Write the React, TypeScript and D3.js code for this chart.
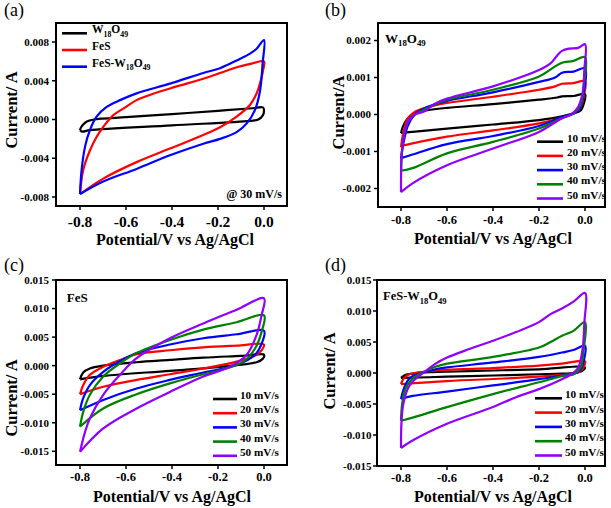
import React from "react";
import * as d3 from "d3";

type Pt = [number, number];

// ---------- shared tick values ----------
const xTicks = [-0.8, -0.6, -0.4, -0.2, 0.0];
const aYTicks = [-0.008, -0.004, 0, 0.004, 0.008];
const bYTicks = [-0.002, -0.001, 0, 0.001, 0.002];
const cYTicks = [-0.015, -0.01, -0.005, 0, 0.005, 0.01, 0.015];
const dYTicks = [-0.015, -0.01, -0.005, 0, 0.005, 0.01, 0.015];

const rateNames = ["10 mV/s", "20 mV/s", "30 mV/s", "40 mV/s", "50 mV/s"];
const aNames = ["W18O49", "FeS", "FeS-W18O49"];
const rateColors = ["#000000", "#ff0000", "#0000ff", "#008000", "#8f00ff"];
const aColors = ["#000000", "#ff0000", "#0000ff"];

// ---------- panel (a): 30 mV/s ----------
const a_W_fwd: Pt[] = [[-0.8, -0.0011], [-0.795, -0.0008], [-0.785, -0.0005], [-0.77, -0.0002], [-0.74, 0], [-0.7, 0.0001], [-0.6, 0.00024], [-0.4, 0.00056], [-0.2, 0.0009], [-0.05, 0.00116], [-0.005, 0.00125]];
const a_W_rev: Pt[] = [[0, 0.001], [-0.006, 0.0004], [-0.025, 0.0000], [-0.06, -0.00014], [-0.4, -0.0006], [-0.757, -0.0011], [-0.79, -0.00125], [-0.8, -0.0011]];
const a_FeS_fwd: Pt[] = [[-0.8, -0.0077], [-0.786, -0.0052], [-0.757, -0.0032], [-0.728, -0.0018], [-0.7, -0.0008], [-0.655, 0.00045], [-0.6, 0.0013], [-0.554, 0.002], [-0.409, 0.0032], [-0.264, 0.0042], [-0.191, 0.0048], [-0.119, 0.0054], [-0.05, 0.0058], [0, 0.006]];
const a_FeS_rev: Pt[] = [[-0.003, 0.0052], [-0.01, 0.0044], [-0.032, 0.0027], [-0.061, 0.0015], [-0.119, 0.0003], [-0.191, -0.0008], [-0.264, -0.0016], [-0.409, -0.003], [-0.554, -0.0044], [-0.699, -0.0061], [-0.8, -0.0077]];
const a_Comp_fwd: Pt[] = [[-0.8, -0.0077], [-0.793, -0.0052], [-0.778, -0.0028], [-0.757, -0.0011], [-0.728, 0.0003], [-0.684, 0.0013], [-0.626, 0.002], [-0.554, 0.0027], [-0.409, 0.0037], [-0.264, 0.0048], [-0.191, 0.0053], [-0.119, 0.0061], [-0.061, 0.0068], [-0.032, 0.0073], [0, 0.0082]];
const a_Comp_rev: Pt[] = [[-0.006, 0.0058], [-0.017, 0.003], [-0.039, 0.001], [-0.075, -0.0004], [-0.119, -0.0013], [-0.191, -0.002], [-0.264, -0.0025], [-0.409, -0.0037], [-0.554, -0.0051], [-0.699, -0.0064], [-0.8, -0.0077]];

// ---------- panel (b): W18O49 ----------
const b10_fwd: Pt[] = [[-0.8, -0.0005], [-0.79, -0.0003], [-0.77, -0.0001], [-0.74, 0.00003], [-0.7, 0.0001], [-0.6, 0.00018], [-0.4, 0.00028], [-0.2, 0.0004], [-0.12, 0.00046], [-0.1, 0.00049], [-0.05, 0.0005], [0, 0.00055]];
const b10_rev: Pt[] = [[-0.005, 0.0003], [-0.02, 0.0001], [-0.05, 0.00003], [-0.1, -0.00005], [-0.2, -0.00015], [-0.4, -0.00027], [-0.6, -0.00038], [-0.75, -0.00047], [-0.8, -0.0005]];
const b20_fwd: Pt[] = [[-0.8, -0.00088], [-0.79, -0.0005], [-0.77, -0.0001], [-0.74, 0.00007], [-0.7, 0.00017], [-0.6, 0.00031], [-0.4, 0.00048], [-0.2, 0.00067], [-0.13, 0.00076], [-0.1, 0.00083], [-0.05, 0.00085], [0, 0.0009]];
const b20_rev: Pt[] = [[-0.005, 0.0005], [-0.02, 0.00018], [-0.05, 0.00003], [-0.1, -0.00008], [-0.2, -0.00024], [-0.4, -0.00043], [-0.6, -0.0006], [-0.75, -0.00078], [-0.8, -0.00085]];
const b30_fwd: Pt[] = [[-0.8, -0.0012], [-0.79, -0.0008], [-0.77, -0.0003], [-0.74, 0], [-0.7, 0.00016], [-0.65, 0.00028], [-0.6, 0.00037], [-0.4, 0.0006], [-0.2, 0.00088], [-0.13, 0.001], [-0.1, 0.00113], [-0.05, 0.00116], [0, 0.00125]];
const b30_rev: Pt[] = [[-0.005, 0.0006], [-0.02, 0.0002], [-0.05, 0.00002], [-0.1, -0.00007], [-0.2, -0.00031], [-0.4, -0.00058], [-0.6, -0.0008], [-0.75, -0.00108], [-0.8, -0.00118]];
const b40_fwd: Pt[] = [[-0.8, -0.00155], [-0.797, -0.0011], [-0.785, -0.0005], [-0.76, -0.0001], [-0.7, 0.00013], [-0.65, 0.00028], [-0.6, 0.0004], [-0.4, 0.00067], [-0.2, 0.00103], [-0.13, 0.0013], [-0.1, 0.0014], [-0.05, 0.00145], [0, 0.00155]];
const b40_rev: Pt[] = [[-0.005, 0.0008], [-0.02, 0.00025], [-0.05, 0.00003], [-0.1, -0.0001], [-0.2, -0.00038], [-0.4, -0.00074], [-0.6, -0.00105], [-0.75, -0.00145], [-0.8, -0.00152]];
const b50_fwd: Pt[] = [[-0.8, -0.0021], [-0.799, -0.0014], [-0.795, -0.0009], [-0.785, -0.0005], [-0.77, -0.0002], [-0.74, 0], [-0.7, 0.00008], [-0.65, 0.0003], [-0.6, 0.00043], [-0.4, 0.00076], [-0.2, 0.0012], [-0.15, 0.00138], [-0.12, 0.0016], [-0.1, 0.00172], [-0.07, 0.00178], [-0.03, 0.0018], [0, 0.0019]];
const b50_rev: Pt[] = [[-0.003, 0.0012], [-0.01, 0.0006], [-0.03, 0.0002], [-0.06, 0], [-0.1, -0.0001], [-0.2, -0.00047], [-0.4, -0.00092], [-0.6, -0.00137], [-0.75, -0.00186], [-0.8, -0.0021]];

// ---------- panel (c): FeS ----------
const c10_fwd: Pt[] = [[-0.8, -0.0024], [-0.786, -0.0012], [-0.757, -0.0005], [-0.699, 0], [-0.554, 0.0006], [-0.409, 0.001], [-0.264, 0.0014], [-0.1, 0.0017], [0, 0.0019]];
const c10_rev: Pt[] = [[-0.005, 0.0012], [-0.032, 0.0006], [-0.191, -0.0002], [-0.409, -0.0009], [-0.699, -0.0018], [-0.8, -0.0024]];
const c20_fwd: Pt[] = [[-0.8, -0.005], [-0.786, -0.0034], [-0.757, -0.0016], [-0.699, -0.0002], [-0.626, 0.001], [-0.554, 0.002], [-0.409, 0.0027], [-0.264, 0.0032], [-0.119, 0.0035], [0, 0.0037]];
const c20_rev: Pt[] = [[-0.01, 0.0027], [-0.032, 0.0019], [-0.119, 0.0007], [-0.264, -0.0005], [-0.409, -0.0015], [-0.554, -0.0025], [-0.699, -0.0037], [-0.8, -0.005]];
const c30_fwd: Pt[] = [[-0.8, -0.0078], [-0.786, -0.0057], [-0.757, -0.0034], [-0.699, -0.0011], [-0.626, 0.0008], [-0.554, 0.0022], [-0.409, 0.0037], [-0.264, 0.0048], [-0.119, 0.0055], [0, 0.0061]];
const c30_rev: Pt[] = [[-0.01, 0.0039], [-0.039, 0.0019], [-0.119, 0.0001], [-0.264, -0.0012], [-0.409, -0.0025], [-0.554, -0.004], [-0.699, -0.006], [-0.8, -0.0078]];
const c40_fwd: Pt[] = [[-0.8, -0.0107], [-0.786, -0.0081], [-0.757, -0.0051], [-0.699, -0.0019], [-0.626, 0.0004], [-0.554, 0.0022], [-0.409, 0.0045], [-0.264, 0.0063], [-0.119, 0.0076], [0, 0.0088]];
const c40_rev: Pt[] = [[-0.01, 0.006], [-0.039, 0.003], [-0.09, 0.0007], [-0.191, -0.0008], [-0.264, -0.0015], [-0.409, -0.0031], [-0.554, -0.005], [-0.699, -0.0075], [-0.8, -0.0107]];
const c50_fwd: Pt[] = [[-0.8, -0.0151], [-0.778, -0.0116], [-0.757, -0.0092], [-0.699, -0.0051], [-0.626, -0.0016], [-0.554, 0.0013], [-0.409, 0.0048], [-0.264, 0.0074], [-0.119, 0.0098], [0, 0.0118]];
const c50_rev: Pt[] = [[-0.01, 0.0089], [-0.032, 0.0054], [-0.075, 0.0019], [-0.148, -0.0002], [-0.264, -0.0019], [-0.409, -0.0046], [-0.554, -0.0075], [-0.699, -0.011], [-0.8, -0.0151]];

// ---------- panel (d): FeS-W18O49 ----------
const d10_fwd: Pt[] = [[-0.8, -0.0008], [-0.78, -0.0003], [-0.75, -0.0001], [-0.7, 0.0001], [-0.6, 0.0002], [-0.4, 0.0004], [-0.2, 0.0006], [0, 0.0009]];
const d10_rev: Pt[] = [[-0.01, 0.0004], [-0.05, 0], [-0.1, -0.0001], [-0.2, -0.0002], [-0.4, -0.0004], [-0.6, -0.0006], [-0.8, -0.0008]];
const d20_fwd: Pt[] = [[-0.8, -0.0018], [-0.79, -0.001], [-0.77, -0.0003], [-0.74, 0], [-0.7, 0.0002], [-0.6, 0.0005], [-0.4, 0.0008], [-0.2, 0.0012], [-0.1, 0.0015], [0, 0.0019]];
const d20_rev: Pt[] = [[-0.005, 0.001], [-0.02, 0.0003], [-0.05, -0.0001], [-0.1, -0.0003], [-0.3, -0.0008], [-0.6, -0.0013], [-0.8, -0.0018]];
const d30_fwd: Pt[] = [[-0.8, -0.0042], [-0.79, -0.0028], [-0.77, -0.0012], [-0.75, -0.0005], [-0.7, 0.0001], [-0.65, 0.0006], [-0.6, 0.0009], [-0.4, 0.0017], [-0.2, 0.0026], [-0.1, 0.0033], [-0.05, 0.0037], [0, 0.0044]];
const d30_rev: Pt[] = [[-0.005, 0.002], [-0.02, 0.0005], [-0.05, -0.0002], [-0.1, -0.0004], [-0.2, -0.001], [-0.4, -0.002], [-0.6, -0.003], [-0.75, -0.0037], [-0.8, -0.0042]];
const d40_fwd: Pt[] = [[-0.8, -0.0077], [-0.795, -0.005], [-0.78, -0.0025], [-0.75, -0.0009], [-0.7, 0.0002], [-0.65, 0.001], [-0.6, 0.0015], [-0.4, 0.0026], [-0.2, 0.0041], [-0.15, 0.005], [-0.1, 0.006], [-0.05, 0.0068], [0, 0.0082]];
const d40_rev: Pt[] = [[-0.005, 0.004], [-0.02, 0.0008], [-0.05, -0.0002], [-0.1, -0.0005], [-0.2, -0.0015], [-0.4, -0.0034], [-0.6, -0.0055], [-0.75, -0.0072], [-0.8, -0.0077]];
const d50_fwd: Pt[] = [[-0.8, -0.0121], [-0.798, -0.008], [-0.79, -0.005], [-0.77, -0.0025], [-0.75, -0.0014], [-0.7, 0.0001], [-0.65, 0.0015], [-0.6, 0.0025], [-0.5, 0.0039], [-0.4, 0.0052], [-0.3, 0.0066], [-0.2, 0.0082], [-0.15, 0.0095], [-0.1, 0.0104], [-0.05, 0.0115], [0, 0.0129]];
const d50_rev: Pt[] = [[-0.003, 0.008], [-0.01, 0.004], [-0.03, 0.0008], [-0.06, -0.0002], [-0.1, -0.001], [-0.2, -0.0026], [-0.3, -0.0039], [-0.4, -0.0055], [-0.6, -0.0082], [-0.75, -0.0109], [-0.8, -0.0121]];

const FONT = "'Liberation Serif', 'Times New Roman', Times, serif";

type Series = { name: string; color: string; fwd: Pt[]; rev: Pt[] };
type Note = { text: string; x: number; y: number; size: number; anchor: string };
type PanelCfg = {
  frame: [number, number, number, number];
  xPix: [number, number];
  yVals: [number, number];
  yPix: [number, number];
  yTicks: number[];
  yDigits: number;
  xTickSize: number;
  xTickBase: number;
  yTickSize: number;
  yTickRight: number;
  yTitle: string;
  yTitlePos: [number, number];
  xTitlePos: [number, number];
  label: string;
  labelPos: [number, number];
  series: Series[];
  legend: { x1: number; x2: number; tx: number; y0: number; dy: number; size: number };
  notes: Note[];
};

function chem(text: string, size: number) {
  const parts = text.split(/(\d+)/);
  const out: React.ReactNode[] = [];
  let shifted = false;
  const sh = size * 0.28;
  parts.forEach((p, i) => {
    if (!p) return;
    const isSub = i % 2 === 1 && /[A-Za-z]$/.test(parts[i - 1] || "");
    if (isSub) {
      out.push(<tspan key={i} fontSize={size * 0.68} dy={shifted ? 0 : sh}>{p}</tspan>);
      shifted = true;
    } else {
      out.push(<tspan key={i} dy={shifted ? -sh : 0}>{p}</tspan>);
      shifted = false;
    }
  });
  return out;
}

const mk = (names: string[], colors: string[], fw: Pt[][], rv: Pt[][]): Series[] =>
  names.map((n, i) => ({ name: n, color: colors[i], fwd: fw[i], rev: rv[i] }));

const panels: PanelCfg[] = [
  {
    frame: [56, 23, 287, 206], xPix: [80, 264], yVals: [-0.008, 0.008], yPix: [197, 42],
    yTicks: aYTicks, yDigits: 3, xTickSize: 15.5, xTickBase: 226.5, yTickSize: 11, yTickRight: 49,
    yTitle: "Current/ A", yTitlePos: [17, 110], xTitlePos: [175, 245], label: "(a)", labelPos: [4, 16],
    series: mk(aNames, aColors, [a_W_fwd, a_FeS_fwd, a_Comp_fwd], [a_W_rev, a_FeS_rev, a_Comp_rev]),
    legend: { x1: 62, x2: 87, tx: 92, y0: 33.3, dy: 16.7, size: 11.5 },
    notes: [{ text: "@ 30 mV/s", x: 282, y: 198, size: 12, anchor: "end" }],
  },
  {
    frame: [378, 23, 605, 207], xPix: [401, 585], yVals: [-0.002, 0.002], yPix: [188.5, 40.5],
    yTicks: bYTicks, yDigits: 3, xTickSize: 12.5, xTickBase: 224, yTickSize: 11, yTickRight: 371,
    yTitle: "Current/A", yTitlePos: [344, 112.5], xTitlePos: [493, 243.5], label: "(b)", labelPos: [325, 16],
    series: mk(rateNames, rateColors, [b10_fwd, b20_fwd, b30_fwd, b40_fwd, b50_fwd], [b10_rev, b20_rev, b30_rev, b40_rev, b50_rev]),
    legend: { x1: 537, x2: 563, tx: 567, y0: 141.7, dy: 14.2, size: 11.2 },
    notes: [{ text: "W18O49", x: 385, y: 42.7, size: 13, anchor: "start" }],
  },
  {
    frame: [56, 280, 287, 465], xPix: [80, 264], yVals: [-0.015, 0.015], yPix: [451.3, 280],
    yTicks: cYTicks, yDigits: 3, xTickSize: 12.5, xTickBase: 481, yTickSize: 11, yTickRight: 49,
    yTitle: "Current/ A", yTitlePos: [17, 398], xTitlePos: [172, 502], label: "(c)", labelPos: [4, 271],
    series: mk(rateNames, rateColors, [c10_fwd, c20_fwd, c30_fwd, c40_fwd, c50_fwd], [c10_rev, c20_rev, c30_rev, c40_rev, c50_rev]),
    legend: { x1: 213, x2: 237, tx: 240, y0: 399, dy: 14.2, size: 11.2 },
    notes: [{ text: "FeS", x: 66.7, y: 301.7, size: 13, anchor: "start" }],
  },
  {
    frame: [377, 280, 605, 466], xPix: [401, 585], yVals: [-0.015, 0.015], yPix: [466, 280],
    yTicks: dYTicks, yDigits: 3, xTickSize: 12.5, xTickBase: 482, yTickSize: 11, yTickRight: 371.5,
    yTitle: "Current/ A", yTitlePos: [335, 371], xTitlePos: [493, 502], label: "(d)", labelPos: [325, 271],
    series: mk(rateNames, rateColors, [d10_fwd, d20_fwd, d30_fwd, d40_fwd, d50_fwd], [d10_rev, d20_rev, d30_rev, d40_rev, d50_rev]),
    legend: { x1: 535, x2: 562, tx: 565, y0: 398.3, dy: 14.3, size: 11.2 },
    notes: [{ text: "FeS-W18O49", x: 383, y: 300, size: 12.5, anchor: "start" }],
  },
];

const fmt = (v: number, d: number) => (Math.abs(v) < 1e-12 ? (0).toFixed(d) : v.toFixed(d));

function Panel({ c }: { c: PanelCfg }) {
  const [fx0, fy0, fx1, fy1] = c.frame;
  const x = d3.scaleLinear().domain([-0.8, 0]).range(c.xPix);
  const y = d3.scaleLinear().domain(c.yVals).range(c.yPix);
  const line = d3.line<Pt>().x((d) => x(d[0])).y((d) => y(d[1])).curve(d3.curveCatmullRom.alpha(0.5));
  return (
    <g fontFamily={FONT}>
      <rect x={fx0} y={fy0} width={fx1 - fx0} height={fy1 - fy0} fill="#ffffff" />
      {c.series.map((s) => (
        <path key={s.name} d={line([...s.fwd, ...s.rev]) || ""} fill="none" stroke={s.color} strokeWidth={2.2} strokeLinejoin="round" />
      ))}
      <rect x={fx0} y={fy0} width={fx1 - fx0} height={fy1 - fy0} fill="none" stroke="#000" strokeWidth={2} />
      {xTicks.map((t) => (
        <g key={"x" + t}>
          <line x1={x(t)} x2={x(t)} y1={fy1} y2={fy1 + 4} stroke="#000" strokeWidth={1.5} />
          <text x={x(t)} y={c.xTickBase} fontSize={c.xTickSize} fontWeight="bold" textAnchor="middle">{t.toFixed(1)}</text>
        </g>
      ))}
      {c.yTicks.map((t) => (
        <g key={"y" + t}>
          <line x1={fx0 - 4} x2={fx0} y1={y(t)} y2={y(t)} stroke="#000" strokeWidth={1.5} />
          <text x={c.yTickRight} y={y(t)} dy="0.35em" fontSize={c.yTickSize} fontWeight="bold" textAnchor="end">{fmt(t, c.yDigits)}</text>
        </g>
      ))}
      <text transform={`translate(${c.yTitlePos[0]},${c.yTitlePos[1]}) rotate(-90)`} fontSize={16.5} fontWeight="bold" textAnchor="middle">{c.yTitle}</text>
      <text x={c.xTitlePos[0]} y={c.xTitlePos[1]} fontSize={16} fontWeight="bold" textAnchor="middle">Potential/V vs Ag/AgCl</text>
      <text x={c.labelPos[0]} y={c.labelPos[1]} fontSize={18}>{c.label}</text>
      {c.series.map((s, i) => (
        <g key={"lg" + s.name}>
          <line x1={c.legend.x1} x2={c.legend.x2} y1={c.legend.y0 + i * c.legend.dy} y2={c.legend.y0 + i * c.legend.dy} stroke={s.color} strokeWidth={2.6} />
          <text x={c.legend.tx} y={c.legend.y0 + i * c.legend.dy} dy="0.35em" fontSize={c.legend.size} fontWeight="bold">{chem(s.name, c.legend.size)}</text>
        </g>
      ))}
      {c.notes.map((n) => (
        <text key={n.text} x={n.x} y={n.y} fontSize={n.size} fontWeight="bold" textAnchor={n.anchor as any}>{chem(n.text, n.size)}</text>
      ))}
    </g>
  );
}

export default function App() {
  return (
    <svg width={611} height={508} viewBox="0 0 611 508" style={{ position: "absolute", left: 0, top: 0, background: "#fff" }}>
      <rect x={0} y={0} width={611} height={508} fill="#fff" />
      {panels.map((p, i) => (
        <Panel key={i} c={p} />
      ))}
    </svg>
  );
}
